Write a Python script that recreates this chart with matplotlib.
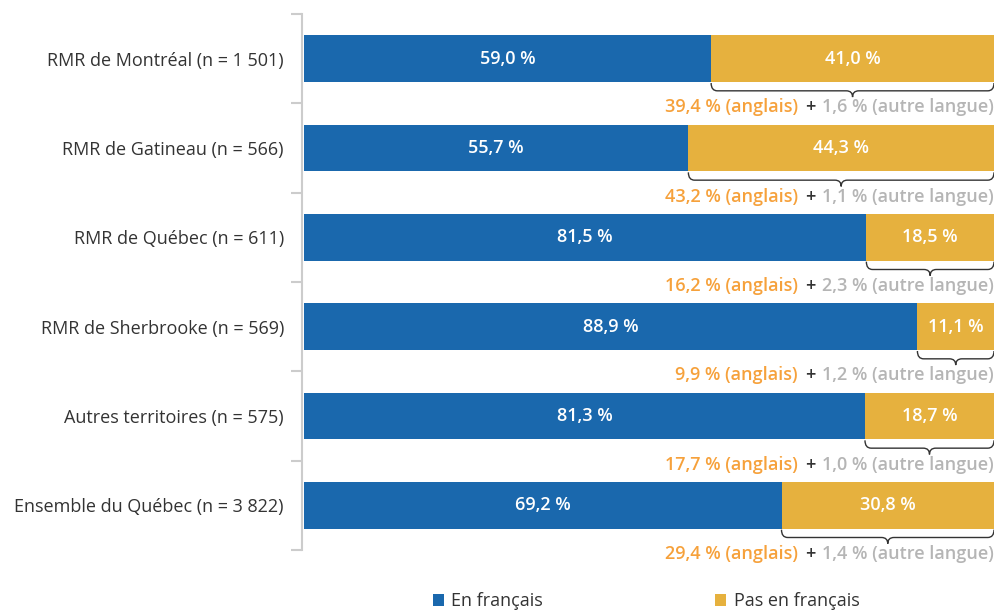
import matplotlib.pyplot as plt
from matplotlib.path import Path
from matplotlib.patches import PathPatch
from matplotlib.offsetbox import TextArea, HPacker, AnnotationBbox

plt.rcParams['font.family'] = ['Open Sans', 'DejaVu Sans']

regions = ['RMR de Montréal (n = 1 501)', 'RMR de Gatineau (n = 566)',
           'RMR de Québec (n = 611)', 'RMR de Sherbrooke (n = 569)',
           'Autres territoires (n = 575)', 'Ensemble du Québec (n = 3 822)']
fr = [59.0, 55.7, 81.5, 88.9, 81.3, 69.2]
non_fr = [41.0, 44.3, 18.5, 11.1, 18.7, 30.8]
anglais = [39.4, 43.2, 16.2, 9.9, 17.7, 29.4]
autre = [1.6, 1.1, 2.3, 1.2, 1.0, 1.4]

blue = '#1a68ad'
yellow = '#e6b13e'
orange = '#f6a13b'
grey = '#b5b5b5'
dark = '#333333'
fs = 13


def pct(v):
    return f'{v:.1f}'.replace('.', ',') + ' %'


fig = plt.figure(figsize=(9.95, 6.12), dpi=100)
ax = fig.add_axes([302 / 995, 1 - 550 / 612, 692 / 995, 536 / 612])

y = list(range(len(regions)))
h = 0.525
ax.barh(y, fr, height=h, color=blue, label='En français')
ax.barh(y, non_fr, left=fr, height=h, color=yellow, label='Pas en français')

ax.set_xlim(-0.3, 100)
ax.set_ylim(5.5, -0.5)

for i in y:
    ax.text(fr[i] / 2, i, pct(fr[i]), color='white', ha='center', va='center',
            fontsize=fs, fontweight='semibold')
    ax.text(fr[i] + non_fr[i] / 2, i, pct(non_fr[i]), color='white', ha='center',
            va='center', fontsize=fs, fontweight='semibold')

    # accolade sous la partie jaune
    x0, x1 = fr[i], 100
    xm = (x0 + x1) / 2
    yb = i + h / 2 + 0.01
    yh = i + 0.36
    yt = i + 0.43
    rx = 0.9
    verts = [(x0, yb), (x0, yh), (x0 + rx, yh), (xm - rx, yh), (xm, yh), (xm, yt),
             (xm, yh), (xm + rx, yh), (x1 - rx, yh), (x1, yh), (x1, yb)]
    codes = [Path.MOVETO, Path.CURVE3, Path.CURVE3, Path.LINETO, Path.CURVE3, Path.CURVE3,
             Path.CURVE3, Path.CURVE3, Path.LINETO, Path.CURVE3, Path.CURVE3]
    ax.add_patch(PathPatch(Path(verts, codes), fill=False, edgecolor=dark, lw=1,
                           clip_on=False))

    parts = [TextArea(pct(anglais[i]) + ' (anglais)',
                      textprops=dict(color=orange, fontsize=fs, fontweight='semibold')),
             TextArea('+', textprops=dict(color=dark, fontsize=fs, fontweight='semibold')),
             TextArea(pct(autre[i]) + ' (autre langue)',
                      textprops=dict(color=grey, fontsize=fs, fontweight='semibold'))]
    box = HPacker(children=parts, pad=0, sep=5, align='baseline')
    ab = AnnotationBbox(box, (100, i + 0.545), xycoords='data', box_alignment=(1, 0.5),
                        frameon=False, pad=0, annotation_clip=False)
    ax.add_artist(ab)

ax.set_yticks(y)
ax.set_yticklabels(regions, fontsize=fs, color=dark)
ax.set_yticks([k - 0.5 for k in range(len(regions) + 1)], minor=True)
ax.tick_params(axis='y', which='major', length=0, pad=13)
ax.tick_params(axis='y', which='minor', length=8, color='#cccccc', width=1.5)
ax.set_xticks([])
for s in ['top', 'right', 'bottom']:
    ax.spines[s].set_visible(False)
ax.spines['left'].set_color('#cccccc')
ax.spines['left'].set_linewidth(1.5)

fig.legend(loc='center', bbox_to_anchor=(646 / 995, 1 - 601 / 612), ncol=2,
           frameon=False, fontsize=fs, handlelength=0.65, handleheight=0.65,
           handletextpad=0.4, columnspacing=9.5, labelcolor=dark)

fig.savefig('out.png', dpi=100)
